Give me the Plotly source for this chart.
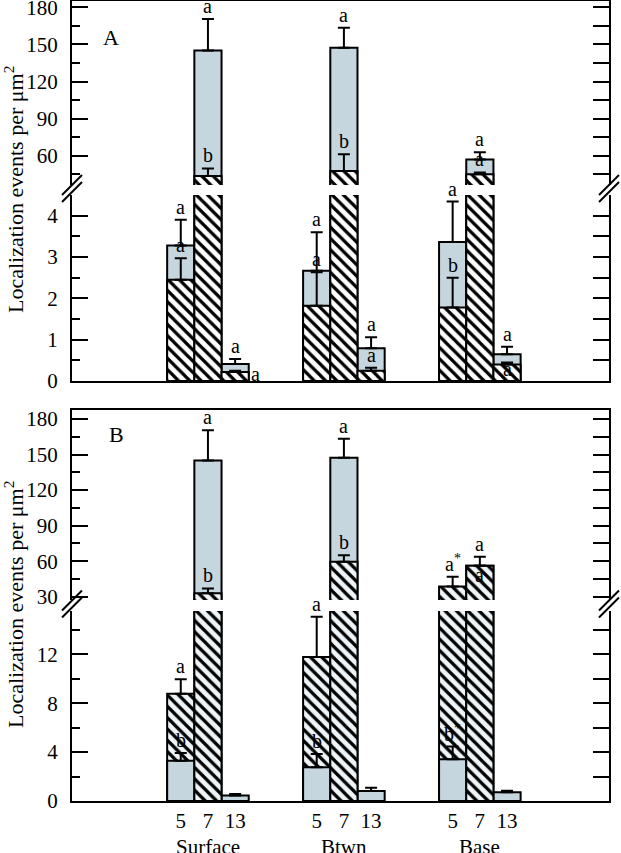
import plotly.graph_objects as go

# ---------------- data ----------------
groups = ["Surface", "Btwn", "Base"]
sizes = ["5", "7", "13"]

# Panel A (order: Surface 5,7,13 | Btwn 5,7,13 | Base 5,7,13)
a_blue = [3.28, 145.1, 0.41, 2.67, 147.3, 0.79, 3.36, 57.0, 0.65]
a_blue_err = [0.62, 25.4, 0.12, 0.93, 16.1, 0.27, 0.98, 5.8, 0.18]
a_hatch = [2.45, 43.6, 0.22, 1.82, 47.7, 0.25, 1.78, 45.0, 0.40]
a_hatch_err = [0.52, 6.1, 0.03, 0.81, 13.4, 0.07, 0.72, 1.5, 0.05]
a_blue_lab = ["a", "a", "a", "a", "a", "a", "a", "a", "a"]
a_hatch_lab = ["a", "b", "a", "a", "b", "a", "b", "a", "a"]

# Panel B
b_blue = [3.30, 144.9, 0.44, 2.76, 147.2, 0.82, 3.42, 56.2, 0.71]
b_blue_err = [0.63, 25.6, 0.13, 1.09, 16.1, 0.27, 1.03, 7.6, 0.13]
b_hatch = [8.77, 32.9, None, 11.78, 59.5, None, 38.5, 56.2, None]
b_hatch_err = [1.19, 4.1, 0, 3.28, 5.5, 0, 8.4, 0, 0]
b_blue_lab = ["b", "a", "", "b", "a", "", "b<sup>*</sup>", "a", ""]
b_hatch_lab = ["a", "b", "", "a", "b", "", "a<sup>*</sup>", "a", ""]

y_title = "Localization events per μm<sup>2</sup>"

# ---------------- style / layout ----------------
BLUE = "#c6d6de"
FONT = "Liberation Serif"
W, H = 621, 853
ML, MR, MT, MB = 72, 12, 1, 52
PW = W - ML - MR
PH = H - MT - MB


def py(p):
    return (H - MB - p) / PH


def px(p):
    return (p - ML) / PW


BW = 0.2
xpos = []
for gi in range(len(groups)):
    for off in (-BW, 0.0, BW):
        xpos.append(gi + 1 + off)

panels = [
    dict(name="A", blue=a_blue, blue_err=a_blue_err, hatch=a_hatch, hatch_err=a_hatch_err,
         blue_lab=a_blue_lab, hatch_lab=a_hatch_lab, bg="white",
         lower=("x3", "y3"), upper=("x4", "y4"), lower_top=4.5),
    dict(name="B", blue=b_blue, blue_err=b_blue_err, hatch=b_hatch, hatch_err=b_hatch_err,
         blue_lab=b_blue_lab, hatch_lab=b_hatch_lab, bg="#eef4f7",
         lower=("x", "y"), upper=("x2", "y2"), lower_top=15.54),
]

fig = go.Figure()


def bar(y, err, kind, bg, xa, ya):
    if kind == "blue":
        marker = dict(color=BLUE, line=dict(color="black", width=2))
    else:
        marker = dict(color=bg, line=dict(color="black", width=2),
                      pattern=dict(shape="\\", fgcolor="black", bgcolor=bg,
                                   size=8, solidity=0.4, fillmode="replace"))
    return go.Bar(x=xpos, y=y, width=BW, marker=marker,
                  error_y=dict(type="data", array=err, arrayminus=[0] * len(err),
                               symmetric=False, color="black", thickness=2, width=6),
                  xaxis=xa, yaxis=ya, showlegend=False, hoverinfo="skip")


annotations = []
special = {("A", 2): dict(kind="right"), ("A", 8): dict(kind="mid", yshift=-5),
           ("B", 7): dict(kind="mid", yshift=-9)}

for p in panels:
    n = len(p["blue"])
    back_b, back_h, front_b, front_h = [None] * n, [None] * n, [None] * n, [None] * n
    eb_b, eb_h, ef_b, ef_h = [0] * n, [0] * n, [0] * n, [0] * n
    for i in range(n):
        b, h = p["blue"][i], p["hatch"][i]
        if h is None or h <= b:
            back_b[i], eb_b[i] = b, p["blue_err"][i]
            if h is not None:
                front_h[i], ef_h[i] = h, p["hatch_err"][i]
        else:
            back_h[i], eb_h[i] = h, p["hatch_err"][i]
            front_b[i], ef_b[i] = b, p["blue_err"][i]
    for xa, ya in (p["lower"], p["upper"]):
        fig.add_trace(bar(back_b, eb_b, "blue", p["bg"], xa, ya))
        fig.add_trace(bar(back_h, eb_h, "hatch", p["bg"], xa, ya))
        fig.add_trace(bar(front_b, ef_b, "blue", p["bg"], xa, ya))
        fig.add_trace(bar(front_h, ef_h, "hatch", p["bg"], xa, ya))

    # letters
    for series in ("blue", "hatch"):
        for i in range(n):
            lab = p[series + "_lab"][i]
            val = p[series][i]
            if not lab or val is None:
                continue
            cap = val + p[series + "_err"][i]
            sp = special.get((p["name"], i)) if series == "hatch" else None
            if sp is None:
                yv = cap
                ann = dict(x=xpos[i], y=yv, yanchor="bottom", xanchor="center", yshift=0)
            elif sp["kind"] == "right":
                yv = val
                ann = dict(x=xpos[i] + BW / 2, y=yv, xanchor="left", yanchor="middle", yshift=-2)
            else:
                yv = val
                ann = dict(x=xpos[i], y=yv, xanchor="center", yanchor="middle", yshift=sp["yshift"])
            xa, ya = p["lower"] if yv <= p["lower_top"] else p["upper"]
            ann.update(text=lab, showarrow=False, xref=xa, yref=ya,
                       font=dict(family=FONT, size=20, color="black"))
            annotations.append(ann)

# right-side tick axes need a (dummy) trace each
for xa, ya in (("x", "y5"), ("x2", "y6"), ("x3", "y7"), ("x4", "y8")):
    fig.add_trace(go.Scatter(x=[None], y=[None], yaxis=ya, xaxis=xa, showlegend=False,
                             hoverinfo="skip"))

tickfont = dict(family=FONT, size=21, color="black")


def yleft(domain, rng, dtick, mdtick):
    return dict(domain=domain, range=rng, tick0=0, dtick=dtick, ticks="inside", ticklen=16,
                tickwidth=2, tickcolor="black", showline=True, linewidth=2, linecolor="black",
                showgrid=False, zeroline=False, tickfont=tickfont, ticklabelstandoff=8,
                automargin=False, ticklabeloverflow="allow",
                minor=dict(dtick=mdtick, tick0=0, ticks="inside", ticklen=8, tickwidth=2,
                           tickcolor="black", showgrid=False))


def yright(over, anchor, rng, dtick):
    return dict(overlaying=over, side="right", anchor=anchor, range=rng, tick0=0, dtick=dtick,
                ticks="inside", ticklen=16, tickwidth=2, tickcolor="black", showline=True,
                linewidth=2, linecolor="black", showgrid=False, zeroline=False,
                showticklabels=False, automargin=False)


XR = [0, 3.95]
dom_B_low = [0, py(611)]
dom_B_up = [py(600), py(410)]
dom_A_low = [py(381), py(195)]
dom_A_up = [py(185), 1.0]
r_B_low = [0, 15.54]
r_B_up = [27.2, 187.6]
r_A_low = [0, 4.5]
r_A_up = [36.3, 185.1]

xcommon = dict(range=XR, showgrid=False, zeroline=False, showline=True, linewidth=2,
               linecolor="black", ticks="", automargin=False, ticklabeloverflow="allow")

fig.update_layout(
    template="none",
    width=W, height=H, margin=dict(l=ML, r=MR, t=MT, b=MB, autoexpand=False),
    paper_bgcolor="white", plot_bgcolor="white", barmode="overlay",
    font=dict(family=FONT, size=21, color="black"),
    xaxis=dict(xcommon, anchor="y", tickvals=xpos, ticktext=sizes * len(groups),
               tickfont=tickfont, ticklabelstandoff=0),
    xaxis2=dict(xcommon, anchor="y2", matches="x", side="top", showticklabels=False),
    xaxis3=dict(xcommon, anchor="y3", matches="x", showticklabels=False),
    xaxis4=dict(xcommon, anchor="y4", matches="x", side="top", showticklabels=False),
    yaxis=yleft(dom_B_low, r_B_low, 4, 2),
    yaxis2=yleft(dom_B_up, r_B_up, 30, 15),
    yaxis3=yleft(dom_A_low, r_A_low, 1, 0.5),
    yaxis4=yleft(dom_A_up, r_A_up, 30, 15),
    yaxis5=yright("y", "x", r_B_low, 2),
    yaxis6=yright("y2", "x2", r_B_up, 15),
    yaxis7=yright("y3", "x3", r_A_low, 0.5),
    yaxis8=yright("y4", "x4", r_A_up, 15),
)

# group labels
for gi, g in enumerate(groups):
    annotations.append(dict(x=gi + 1, y=py(847), xref="x", yref="paper", text=g,
                            showarrow=False, yanchor="middle", font=tickfont))

# y titles and panel letters
for cy in (190, 605):
    annotations.append(dict(x=px(14), y=py(cy), xref="paper", yref="paper", text=y_title,
                            textangle=-90, showarrow=False, xanchor="center", yanchor="middle",
                            font=dict(family=FONT, size=22, color="black")))
annotations.append(dict(x=px(101), y=py(23), xref="paper", yref="paper", text="A",
                        showarrow=False, font=dict(family=FONT, size=22, color="black")))
annotations.append(dict(x=px(107), y=py(434), xref="paper", yref="paper", text="B",
                        showarrow=False, font=dict(family=FONT, size=22, color="black")))
fig.update_layout(annotations=annotations)

# axis-break marks
shapes = []
for c in (190, 605.5):
    for xc in (72, 609):
        for dy in (0, 7):
            shapes.append(dict(type="line", xref="paper", yref="paper",
                               x0=px(xc - 10), y0=py(c + 5 + dy), x1=px(xc + 10), y1=py(c - 15 + dy),
                               line=dict(color="black", width=2)))
fig.update_layout(shapes=shapes)

fig.write_html("out.html", config={"displayModeBar": False},
               post_script="document.body.style.margin='0';document.body.style.overflow='hidden';")
